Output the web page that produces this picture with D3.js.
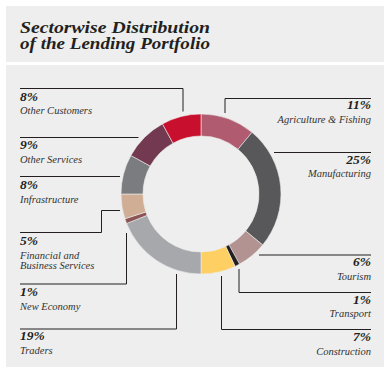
<!DOCTYPE html>
<html>
<head>
<meta charset="utf-8">
<script src="https://cdn.jsdelivr.net/npm/d3@7"></script>
<style>
  html, body { margin: 0; padding: 0; background: #ffffff; }
  svg { display: block; }
</style>
</head>
<body>
<svg id="chart" width="390" height="373"></svg>
<script>
// ---- Data ----
const categories = ["Agriculture & Fishing", "Manufacturing", "Tourism", "Transport", "Construction",
  "Traders", "New Economy", "Financial and Business Services", "Infrastructure", "Other Services", "Other Customers"];
const values = [11, 25, 6, 1, 7, 19, 1, 5, 8, 9, 8];
const colors = ["#b05b70", "#58585a", "#b29391", "#231f20", "#fecf63",
  "#a7a8ac", "#8c5456", "#cfae95", "#7b7c7f", "#733951", "#c8102e"];
const labelLines = [["Agriculture & Fishing"], ["Manufacturing"], ["Tourism"], ["Transport"], ["Construction"],
  ["Traders"], ["New Economy"], ["Financial and", "Business Services"], ["Infrastructure"], ["Other Services"], ["Other Customers"]];
const titleLines = ["Sectorwise Distribution", "of the Lending Portfolio"];

// ---- Layout (positions only) ----
const W = 390, H = 373;
const cx = 201, cy = 194, rOuter = 80, rInner = 58;
const layout = [
  { side: "r", y: 109, pts: [[225,113],[225,98.5],[371,98.5]] },
  { side: "r", y: 163.5, pts: [[274,152.5],[371,152.5]] },
  { side: "r", y: 266, pts: [[259,255],[371,255]] },
  { side: "r", y: 303.5, pts: [[239,269],[239,292.5],[371,292.5]] },
  { side: "r", y: 341, pts: [[221.5,276],[221.5,329.5],[371,329.5]] },
  { side: "l", y: 340, pts: [[176.5,274],[176.5,329],[20,329]] },
  { side: "l", y: 296, pts: [[126.5,233],[126.5,284],[20,284]] },
  { side: "l", y: 245, pts: [[120,210.5],[101.5,210.5],[101.5,232.5],[20,232.5]] },
  { side: "l", y: 189, pts: [[120,176.5],[20,176.5]] },
  { side: "l", y: 149, pts: [[138.5,137.5],[20,137.5]] },
  { side: "l", y: 100.5, pts: [[183,111.5],[183,88.5],[20,88.5]] }
];

const svg = d3.select("#chart");
const bg = "#edeeed";
svg.append("rect").attr("x", 6).attr("y", 6).attr("width", 378).attr("height", 56).attr("fill", bg);
svg.append("rect").attr("x", 6).attr("y", 65).attr("width", 378).attr("height", 302).attr("fill", bg);

// Title
const titleG = svg.append("g");
titleLines.forEach((t, i) => {
  titleG.append("text")
    .attr("x", 20).attr("y", 32.5 + i * 16.5)
    .attr("font-family", "'Liberation Serif', 'DejaVu Serif', serif")
    .attr("font-weight", "bold").attr("font-style", "italic")
    .attr("font-size", 16).attr("fill", "#231f20")
    .attr("textLength", 190).attr("lengthAdjust", "spacingAndGlyphs")
    .text(t);
});

// Donut
const pie = d3.pie().sort(null).value(d => d)(values);
const arc = d3.arc().innerRadius(rInner).outerRadius(rOuter);
const g = svg.append("g").attr("transform", `translate(${cx},${cy})`);
g.selectAll("path").data(pie).join("path")
  .attr("d", arc)
  .attr("fill", (d, i) => colors[i])
  .attr("stroke", bg).attr("stroke-width", 0.6);

// Leader lines
const line = d3.line();
svg.append("g").selectAll("path").data(layout).join("path")
  .attr("d", d => line(d.pts))
  .attr("fill", "none").attr("stroke", "#231f20").attr("stroke-width", 1);

// Labels
const lg = svg.append("g");
layout.forEach((L, i) => {
  const x = L.side === "r" ? 371 : 20;
  const anchor = L.side === "r" ? "end" : "start";
  lg.append("text").attr("x", x).attr("y", L.y)
    .attr("text-anchor", anchor)
    .attr("font-family", "'Liberation Serif', 'DejaVu Serif', serif")
    .attr("font-weight", "bold").attr("font-style", "italic")
    .attr("font-size", 13.5).attr("fill", "#231f20")
    .text(values[i] + "%");
  labelLines[i].forEach((s, j) => {
    lg.append("text").attr("x", x).attr("y", L.y + 13.5 + j * 10.8)
      .attr("text-anchor", anchor)
      .attr("font-family", "'Liberation Serif', 'DejaVu Serif', serif")
      .attr("font-style", "italic")
      .attr("font-size", 10.5).attr("fill", "#333333")
      .text(s);
  });
});
</script>
</body>
</html>
